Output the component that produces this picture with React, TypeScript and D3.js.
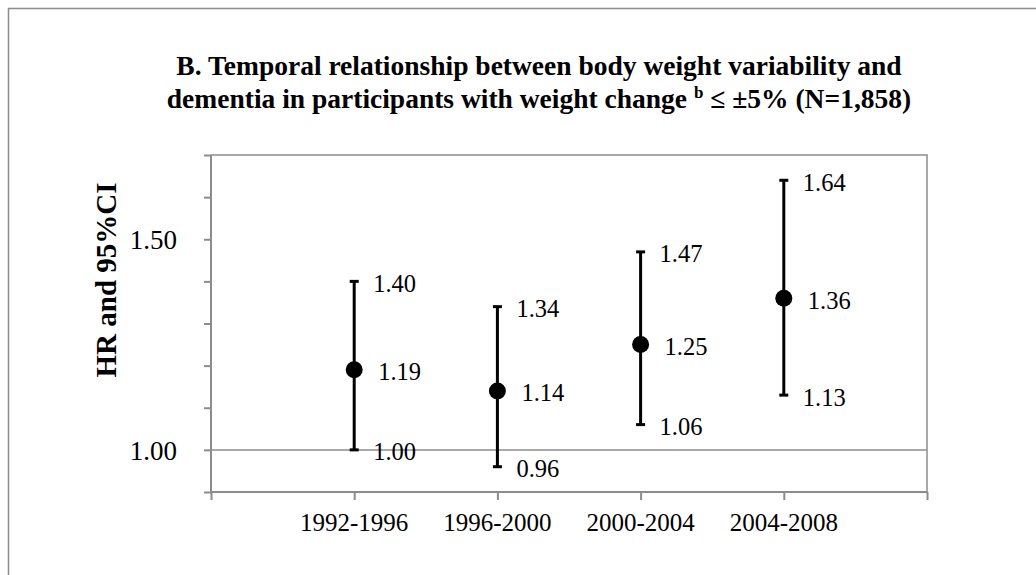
import React, { useRef, useEffect } from "react";
import * as d3 from "d3";

// periods on the x axis
const periods = ["1992-1996", "1996-2000", "2000-2004", "2004-2008"];
// hazard ratios and 95% CI bounds
const hr = [1.19, 1.14, 1.25, 1.36];
const ciLow = [1.0, 0.96, 1.06, 1.13];
const ciHigh = [1.4, 1.34, 1.47, 1.64];
// labelled y ticks
const yTickLabels = [1.0, 1.5];

const titleLines = [
  "B. Temporal relationship between body weight variability and",
  "dementia in participants with weight change",
];

const App = () => {
  const ref = useRef<SVGSVGElement>(null);

  useEffect(() => {
    const svg = d3.select(ref.current);
    svg.selectAll("*").remove();

    const width = 1036;
    const height = 575;
    const margin = { top: 155, right: 109, bottom: 83, left: 211 };
    const font = "'Liberation Serif', 'Times New Roman', serif";
    const grey = "#8c8c8c";

    svg.attr("width", width).attr("height", height);

    // outer frame, runs off the page on the right and bottom
    svg
      .append("rect")
      .attr("x", 8.5)
      .attr("y", 8.5)
      .attr("width", 1200)
      .attr("height", 800)
      .attr("fill", "white")
      .attr("stroke", grey)
      .attr("stroke-width", 1.5);

    const data = periods.map((p, i) => ({
      period: p,
      hr: hr[i],
      lo: ciLow[i],
      hi: ciHigh[i],
    }));

    // 5 slots, categories sit on the inner tick marks
    const x = d3
      .scaleLinear()
      .domain([0, periods.length + 1])
      .range([margin.left, width - margin.right]);

    const y = d3
      .scaleLinear()
      .domain([0.9, 1.7])
      .range([height - margin.bottom, margin.top]);

    // plot frame (top and right)
    svg
      .append("path")
      .attr("d", `M${x(0)},${y(1.7)}H${x(5)}V${y(0.9)}`)
      .attr("fill", "none")
      .attr("stroke", grey)
      .attr("stroke-width", 1.5);

    // reference line at 1.00
    svg
      .append("line")
      .attr("x1", x(0))
      .attr("x2", x(5))
      .attr("y1", y(1))
      .attr("y2", y(1))
      .attr("stroke", grey)
      .attr("stroke-width", 1.5);

    // y axis
    const yAxis = svg
      .append("g")
      .attr("transform", `translate(${x(0)},0)`)
      .call(
        d3
          .axisLeft(y)
          .tickValues(d3.range(9).map((k) => 0.9 + k * 0.1))
          .tickSize(7)
          .tickFormat(() => "")
      );
    yAxis.selectAll("path, line").attr("stroke", grey).attr("stroke-width", 2);
    yAxis.select(".domain").attr("d", `M0,${y(0.9)}V${y(1.7)}`);

    svg
      .append("g")
      .selectAll("text")
      .data(yTickLabels)
      .join("text")
      .attr("x", x(0) - 34)
      .attr("y", (d) => y(d) + 1)
      .attr("text-anchor", "end")
      .attr("dominant-baseline", "central")
      .attr("font-family", font)
      .attr("font-size", 27)
      .text((d) => d3.format(".2f")(d));

    // x axis
    const xAxis = svg
      .append("g")
      .attr("transform", `translate(0,${y(0.9)})`)
      .call(
        d3
          .axisBottom(x)
          .tickValues(d3.range(6))
          .tickSize(8)
          .tickFormat(() => "")
      );
    xAxis.selectAll("path, line").attr("stroke", grey).attr("stroke-width", 2);
    xAxis.select(".domain").attr("d", `M${x(0)},0H${x(5)}`);

    svg
      .append("g")
      .selectAll("text")
      .data(data)
      .join("text")
      .attr("x", (d, i) => x(i + 1))
      .attr("y", y(0.9) + 39)
      .attr("text-anchor", "middle")
      .attr("font-family", font)
      .attr("font-size", 25)
      .text((d) => d.period);

    // error bars
    const bars = svg
      .append("g")
      .selectAll("g")
      .data(data)
      .join("g")
      .attr("transform", (d, i) => `translate(${x(i + 1)},0)`);

    bars
      .append("line")
      .attr("y1", (d) => y(d.lo))
      .attr("y2", (d) => y(d.hi))
      .attr("stroke", "black")
      .attr("stroke-width", 3);

    bars
      .selectAll("line.cap")
      .data((d) => [d.lo, d.hi])
      .join("line")
      .attr("class", "cap")
      .attr("x1", -4.5)
      .attr("x2", 4.5)
      .attr("y1", (v) => y(v))
      .attr("y2", (v) => y(v))
      .attr("stroke", "black")
      .attr("stroke-width", 3);

    bars
      .append("circle")
      .attr("cy", (d) => y(d.hr))
      .attr("r", 8.5)
      .attr("fill", "black");

    // value labels
    bars
      .selectAll("text")
      .data((d) => [
        { v: d.hi, dx: 19 },
        { v: d.hr, dx: 24 },
        { v: d.lo, dx: 19 },
      ])
      .join("text")
      .attr("x", (d) => d.dx)
      .attr("y", (d) => y(d.v) + 2)
      .attr("dominant-baseline", "central")
      .attr("font-family", font)
      .attr("font-size", 24.5)
      .text((d) => d3.format(".2f")(d.v));

    // title
    const title = svg
      .append("text")
      .attr("text-anchor", "middle")
      .attr("font-family", font)
      .attr("font-weight", "bold")
      .attr("font-size", 27.5);

    title
      .append("tspan")
      .attr("x", 539)
      .attr("y", 75)
      .text(titleLines[0]);

    const line2 = title.append("tspan").attr("x", 539).attr("y", 108);
    line2.append("tspan").text(titleLines[1] + " ");
    line2
      .append("tspan")
      .attr("font-size", 17)
      .attr("dy", -10)
      .text("b");
    line2
      .append("tspan")
      .attr("dy", 10)
      .text(" \u2264 \u00b15% (N=1,858)");

    // y axis title
    svg
      .append("text")
      .attr("transform", `translate(106,280) rotate(-90)`)
      .attr("text-anchor", "middle")
      .attr("dominant-baseline", "central")
      .attr("font-family", font)
      .attr("font-weight", "bold")
      .attr("font-size", 29)
      .text("HR and 95%CI");
  }, []);

  return (
    <svg
      ref={ref}
      style={{ position: "absolute", left: 0, top: 0, display: "block" }}
    ></svg>
  );
};

export default App;
